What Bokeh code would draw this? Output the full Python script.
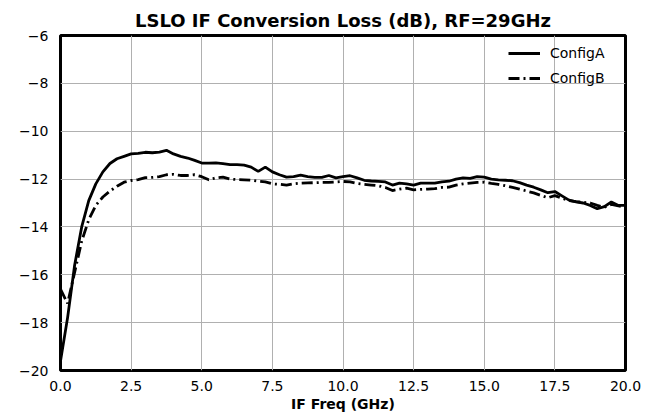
from bokeh.plotting import figure
from bokeh.models import Range1d, FixedTicker, Legend, LegendItem
from bokeh.embed import file_html
from bokeh.resources import INLINE

freq = [i * 0.25 for i in range(81)]

config_a = [
    -19.6, -17.8, -15.6, -14.0, -12.9, -12.2, -11.7, -11.35, -11.15, -11.05,
    -10.95, -10.93, -10.88, -10.9, -10.87, -10.8, -10.95, -11.05, -11.12, -11.22,
    -11.33, -11.33, -11.32, -11.35, -11.4, -11.4, -11.42, -11.5, -11.68, -11.5,
    -11.7, -11.82, -11.92, -11.9, -11.84, -11.9, -11.93, -11.93, -11.85, -11.95,
    -11.9, -11.86, -11.95, -12.05, -12.08, -12.1, -12.12, -12.25, -12.17, -12.2,
    -12.25, -12.17, -12.17, -12.17, -12.12, -12.09, -12.0, -11.95, -11.97, -11.9,
    -11.92, -12.0, -12.03, -12.05, -12.07, -12.15, -12.25, -12.34, -12.45, -12.57,
    -12.52, -12.7, -12.88, -12.95, -13.0, -13.1, -13.24, -13.15, -12.96, -13.1,
    -13.1,
]

config_b = [
    -16.6, -17.2, -15.9, -14.6, -13.7, -13.1, -12.75, -12.5, -12.3, -12.13,
    -12.06, -12.02, -11.94, -11.93, -11.9, -11.82, -11.8, -11.85, -11.85, -11.82,
    -11.9, -12.03, -11.95, -11.92, -12.0, -12.02, -12.03, -12.05, -12.09, -12.12,
    -12.2, -12.22, -12.25, -12.2, -12.17, -12.16, -12.15, -12.14, -12.14, -12.12,
    -12.1, -12.12, -12.18, -12.22, -12.25, -12.28, -12.35, -12.48, -12.42, -12.38,
    -12.45, -12.43, -12.42, -12.4, -12.35, -12.34, -12.25, -12.2, -12.17, -12.14,
    -12.13, -12.18, -12.22, -12.28, -12.35, -12.42, -12.5, -12.58, -12.68, -12.78,
    -12.69, -12.8, -12.9, -12.94, -12.97, -13.0, -13.1, -13.18, -13.06, -13.12,
    -13.17,
]

x_ticks = [0.0, 2.5, 5.0, 7.5, 10.0, 12.5, 15.0, 17.5, 20.0]
x_tick_labels = ["0.0", "2.5", "5.0", "7.5", "10.0", "12.5", "15.0", "17.5", "20.0"]
y_ticks = [-20, -18, -16, -14, -12, -10, -8, -6]
y_tick_labels = ["\u221220", "\u221218", "\u221216", "\u221214", "\u221212", "\u221210", "\u22128", "\u22126"]

FONT = "DejaVu Sans"

p = figure(width=659, height=419, output_backend="svg", toolbar_location=None,
           x_range=Range1d(0, 20), y_range=Range1d(-20, -6),
           min_border_left=60, min_border_right=34, min_border_top=35, min_border_bottom=49)

p.title.text = "LSLO IF Conversion Loss (dB), RF=29GHz"
p.title.align = "center"
p.title.text_font = FONT
p.title.text_font_style = "bold"
p.title.text_font_size = "18px"
p.title.text_color = "black"

p.outline_line_color = "black"
p.outline_line_width = 3
p.outline_line_alpha = 1.0

for ax in (p.xaxis[0], p.yaxis[0]):
    ax.axis_line_color = None
    ax.major_tick_line_color = None
    ax.minor_tick_line_color = None
    ax.major_tick_out = 0
    ax.major_tick_in = 0
    ax.major_label_text_font = FONT
    ax.major_label_text_font_size = "14px"
    ax.major_label_text_color = "black"

p.xaxis[0].ticker = FixedTicker(ticks=x_ticks)
p.xaxis[0].major_label_overrides = {t: l for t, l in zip(x_ticks, x_tick_labels)}
p.yaxis[0].ticker = FixedTicker(ticks=y_ticks)
p.yaxis[0].major_label_overrides = {t: l for t, l in zip(y_ticks, y_tick_labels)}
p.xaxis[0].major_label_standoff = 10
p.yaxis[0].major_label_standoff = 12

p.xaxis[0].axis_label = "IF Freq (GHz)"
p.xaxis[0].axis_label_text_font = FONT
p.xaxis[0].axis_label_text_font_style = "bold"
p.xaxis[0].axis_label_text_font_size = "14px"
p.xaxis[0].axis_label_standoff = 2
p.xaxis[0].axis_label_text_color = "black"

p.xgrid[0].grid_line_color = "#b0b0b0"
p.ygrid[0].grid_line_color = "#b0b0b0"
p.xgrid[0].grid_line_width = 1
p.ygrid[0].grid_line_width = 1

ra = p.line(freq, config_a, line_color="black", line_width=2.8)
rb = p.line(freq, config_b, line_color="black", line_width=2.8, line_dash="11 4 2 4")

legend = Legend(items=[LegendItem(label="ConfigA", renderers=[ra]),
                       LegendItem(label="ConfigB", renderers=[rb])],
                location="top_right")
legend.background_fill_alpha = 0
legend.border_line_color = None
legend.label_text_font = FONT
legend.label_text_font_size = "14px"
legend.label_text_color = "black"
legend.glyph_width = 32
legend.spacing = 5
legend.label_standoff = 10
legend.label_width = 67
legend.margin = 8
p.add_layout(legend)

open("out.html", "w").write(file_html(p, INLINE))
